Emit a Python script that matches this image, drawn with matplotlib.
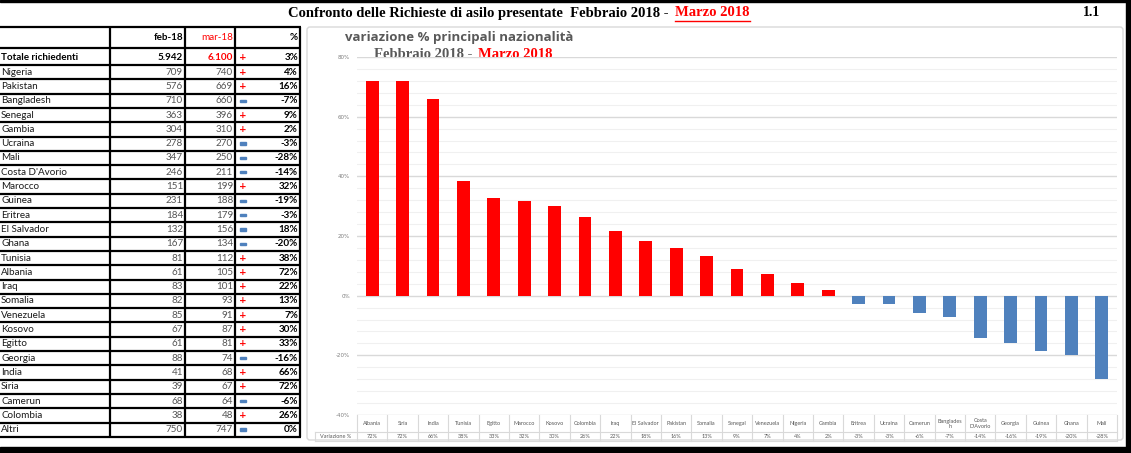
import matplotlib
matplotlib.use("Agg")
import matplotlib.pyplot as plt
from matplotlib.patches import Rectangle, FancyBboxPatch
from matplotlib.transforms import blended_transform_factory
from matplotlib.ticker import MultipleLocator, FuncFormatter

# tabella a sinistra
paesi = ["Nigeria", "Pakistan", "Bangladesh", "Senegal", "Gambia", "Ucraina", "Mali",
         "Costa D'Avorio", "Marocco", "Guinea", "Eritrea", "El Salvador", "Ghana",
         "Tunisia", "Albania", "Iraq", "Somalia", "Venezuela", "Kosovo", "Egitto",
         "Georgia", "India", "Siria", "Camerun", "Colombia", "Altri"]
feb = [709, 576, 710, 363, 304, 278, 347, 246, 151, 231, 184, 132, 167,
       81, 61, 83, 82, 85, 67, 61, 88, 41, 39, 68, 38, 750]
mar = [740, 669, 660, 396, 310, 270, 250, 211, 199, 188, 179, 156, 134,
       112, 105, 101, 93, 91, 87, 81, 74, 68, 67, 64, 48, 747]
var_tab = [4, 16, -7, 9, 2, -3, -28, -14, 32, -19, -3, 18, -20,
           38, 72, 22, 13, 7, 30, 33, -16, 66, 72, -6, 26, 0]
segni = ["+", "+", "-", "+", "+", "-", "-", "-", "+", "-", "-", "-", "-",
         "+", "+", "+", "+", "+", "+", "+", "-", "+", "+", "-", "+", "-"]
tot_feb, tot_mar, tot_var = "5.942", "6.100", 3

# grafico
categorie = ["Albania", "Siria", "India", "Tunisia", "Egitto", "Marocco", "Kosovo",
             "Colombia", "Iraq", "El Salvador", "Pakistan", "Somalia", "Senegal",
             "Venezuela", "Nigeria", "Gambia", "Eritrea", "Ucraina", "Camerun",
             "Banglades\nh", "Costa\nD'Avorio", "Georgia", "Guinea", "Ghana", "Mali"]
variazione = [72.1, 71.8, 65.9, 38.3, 32.8, 31.8, 29.9, 26.3, 21.7, 18.2, 16.1, 13.4,
              9.1, 7.1, 4.4, 2.0, -2.7, -2.9, -5.9, -7.0, -14.2, -15.9, -18.6, -19.8, -28.0]

RED = "#ff0000"
BLUE = "#4f81bd"
GRAY = "#595959"
W, H = 1131, 453

fig = plt.figure(figsize=(W / 100, H / 100), dpi=100)
bg = fig.add_axes([0, 0, 1, 1])
bg.set_xlim(0, W)
bg.set_ylim(H, 0)
bg.axis("off")

# bordi neri
bg.add_patch(Rectangle((0, 0), W, 2, color="black"))
bg.add_patch(Rectangle((1126, 0), 5, H, color="black"))
bg.add_patch(Rectangle((0, 447), W, 6, color="black"))

# titolo principale
serif = "Liberation Serif"
t1 = bg.text(672, 13, "Confronto delle Richieste di asilo presentate  Febbraio 2018 - ",
             ha="right", va="center", fontsize=10.5, fontweight="bold", family=serif)
t2 = bg.text(675, 13, "Marzo 2018", ha="left", va="center", fontsize=10.5,
             fontweight="bold", family=serif, color=RED)
bg.text(1100, 13, "1.1", ha="right", va="center", fontsize=10, fontweight="bold", family=serif)

# tabella
font = "Lato"
fs = 7.1
row_top = 65
row_h = 14.3
row_bot = row_top + row_h * len(paesi)
for x in [110, 185, 235, 300]:
    bg.plot([x, x], [27, row_bot], color="black", lw=1.6, solid_capstyle="butt")
hlines = [27, 48, 65] + [row_top + row_h * (k + 1) for k in range(len(paesi))]
for y in hlines:
    bg.plot([0, 301], [y, y], color="black", lw=1.6, solid_capstyle="butt")

bg.text(183, 38, "feb-18", ha="right", va="center", fontsize=fs, fontweight="bold", family=font)
bg.text(233, 38, "mar-18", ha="right", va="center", fontsize=fs, color=RED, family=font)
bg.text(298, 38, "%", ha="right", va="center", fontsize=fs, fontweight="bold", family=font)

yt = 57
bg.text(1, yt, "Totale richiedenti", ha="left", va="center", fontsize=fs, fontweight="bold", family=font)
bg.text(183, yt, tot_feb, ha="right", va="center", fontsize=fs, fontweight="bold", family=font)
bg.text(233, yt, tot_mar, ha="right", va="center", fontsize=fs, fontweight="bold", family=font, color=RED)
bg.text(298, yt, f"{tot_var}%", ha="right", va="center", fontsize=fs, fontweight="bold", family=font)


def segno(y, s):
    if s == "+":
        bg.text(243, y, "+", ha="center", va="center", fontsize=6.5, fontweight="bold", color=RED)
    else:
        bg.add_patch(Rectangle((240, y - 1.2), 6, 2.4, color=BLUE))


segno(yt, "+")
for i, nome in enumerate(paesi):
    y = row_top + row_h * (i + 0.5)
    bg.text(1, y, nome, ha="left", va="center", fontsize=fs, family=font, color="#1a1a1a")
    bg.text(183, y, str(feb[i]), ha="right", va="center", fontsize=fs, family=font, color="#555555")
    bg.text(233, y, str(mar[i]), ha="right", va="center", fontsize=fs, family=font, color="#555555")
    segno(y, segni[i])
    bg.text(298, y, f"{var_tab[i]}%", ha="right", va="center", fontsize=fs,
            fontweight="bold", family=font)

# riquadro grafico
bg.add_patch(FancyBboxPatch((307, 27), 816, 413, boxstyle="round,pad=0,rounding_size=3",
                            facecolor="white", edgecolor="#d9d9d9", lw=1, zorder=0))

ax = fig.add_axes([357 / W, (H - 415) / H, (1117 - 357) / W, (415 - 57) / H])
x = range(len(categorie))
colori = [RED if v >= 0 else BLUE for v in variazione]
ax.bar(x, variazione, width=0.42, color=colori, zorder=3)
ax.set_xlim(-0.5, len(categorie) - 0.5)
ax.set_ylim(-40, 80)
ax.yaxis.set_major_locator(MultipleLocator(20))
ax.yaxis.set_minor_locator(MultipleLocator(4))
ax.yaxis.set_major_formatter(FuncFormatter(lambda v, p: f"{v:.0f}%"))
ax.grid(which="major", axis="y", color="#d9d9d9", lw=1, zorder=0)
ax.grid(which="minor", axis="y", color="#f0f0f0", lw=0.8, zorder=0)
ax.set_xticks([])
ax.tick_params(axis="y", which="both", length=0, labelsize=4, labelcolor="#7f7f7f", pad=5)
for s in ax.spines.values():
    s.set_visible(False)
ax.patch.set_alpha(0)

# titolo grafico
bg.text(345, 37, "variazione % principali nazionalità", ha="left", va="center",
        fontsize=9.5, fontweight="bold", color=GRAY, family="Open Sans", zorder=5)
bg.text(476, 55, "Febbraio 2018 - ", ha="right", va="center", fontsize=10.5,
        fontweight="bold", color=GRAY, family=serif, zorder=5)
bg.text(478, 55, "Marzo 2018", ha="left", va="center", fontsize=10.5,
        fontweight="bold", color=RED, family=serif, zorder=5)

# tabella dati sotto il grafico
trans = blended_transform_factory(ax.transData, bg.transData)
grid_c = "#d9d9d9"
for i, (c, v) in enumerate(zip(categorie, variazione)):
    bg.text(i, 423.5, c, transform=trans, ha="center", va="center", fontsize=4,
            color=GRAY, family=font, linespacing=1.0)
    bg.text(i, 436.5, f"{round(v)}%", transform=trans, ha="center", va="center",
            fontsize=4, color=GRAY, family=font)
for i in range(len(categorie) + 1):
    bg.plot([i - 0.5, i - 0.5], [415, 441], transform=trans, color=grid_c, lw=0.8)
for y in [432, 441]:
    bg.plot([315, 1117], [y, y], color=grid_c, lw=0.8)
bg.plot([315, 315], [432, 441], color=grid_c, lw=0.8)
bg.text(336, 436.5, "Variazione %", ha="center", va="center", fontsize=4, color=GRAY, family=font)

# sottolineatura "Marzo 2018"
fig.canvas.draw()
bb = t2.get_window_extent()
inv = bg.transData.inverted()
(x0, _), (x1, _) = inv.transform([(bb.x0, bb.y0), (bb.x1, bb.y0)])
bg.plot([x0, x1], [20.5, 20.5], color=RED, lw=1)

fig.savefig("out.png", dpi=100)
